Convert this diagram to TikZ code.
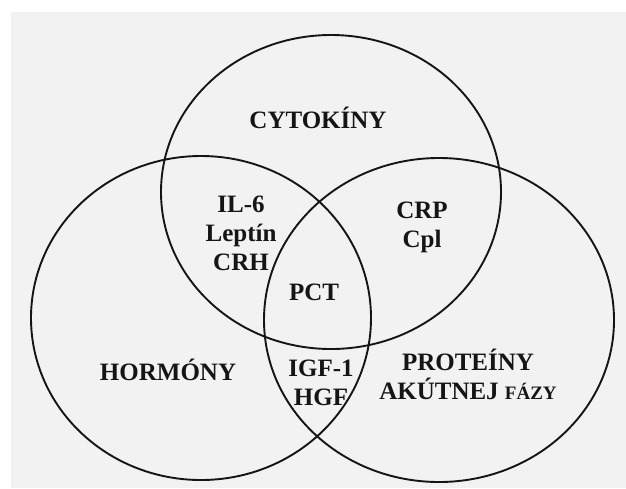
\documentclass[tikz,border=0pt]{standalone}
\usepackage{fontspec}
\setmainfont{Liberation Serif}
\definecolor{panel}{HTML}{F2F2F2}
\definecolor{ink}{HTML}{151515}
\tikzset{
  ring/.style={draw=ink, line width=1.9pt},
  lbl/.style={font=\fontsize{25}{29}\selectfont\bfseries, text=ink, align=center, inner sep=0pt},
}
\begin{document}
\begin{tikzpicture}[x=1pt,y=-1pt]
\useasboundingbox (0,0) rectangle (626,488);
\fill[white] (0,0) rectangle (626,488);
\fill[panel] (11,12) rectangle (626,488);
% sets
\draw[ring] (331,192) ellipse [x radius=170pt, y radius=157pt];
\draw[ring] (201,318) ellipse [x radius=170pt, y radius=162pt];
\draw[ring] (439,320) ellipse [x radius=175pt, y radius=162pt];
% labels
\node[lbl] (cyt) at (318,118) {CYTOKÍNY};
\node[lbl] (il) at (241,233) {IL-6\\Leptín\\CRH};
\node[lbl] (crp) at (422,227) {CRP\\Cpl};
\node[lbl] (pct) at (314,292) {PCT};
\node[lbl] (hor) at (168,370) {HORMÓNY};
\node[lbl] (igf) at (321,383) {IGF-1\\HGF};
\node[lbl] (pro) at (468,374) {PROTEÍNY\\AKÚTNEJ {\fontsize{19}{29}\selectfont FÁZY}};
\end{tikzpicture}
\end{document}
